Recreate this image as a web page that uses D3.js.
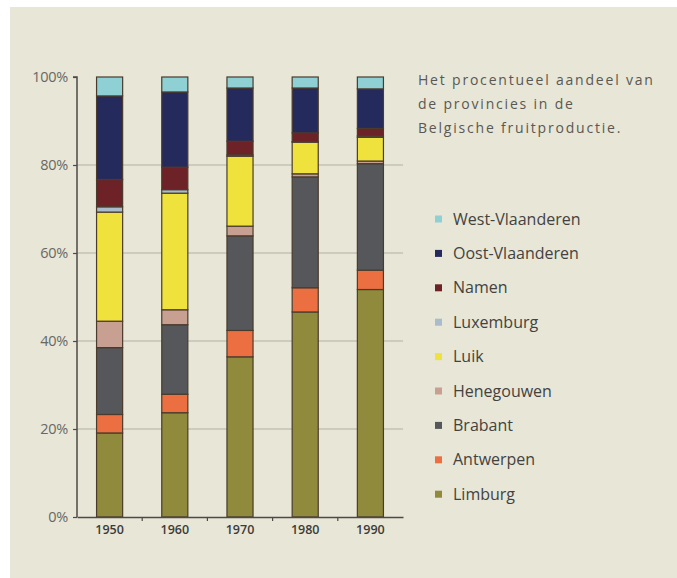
<!DOCTYPE html>
<html>
<head>
<meta charset="utf-8">
<script src="https://cdn.jsdelivr.net/npm/d3@7"></script>
<style>
  html, body { margin: 0; padding: 0; background: #ffffff; }
  svg { display: block; }
</style>
</head>
<body>
<svg id="chart" width="677" height="578"></svg>
<script>
// ---- data ----
const years = ["1950", "1960", "1970", "1980", "1990"];
const provinces = ["Limburg", "Antwerpen", "Brabant", "Henegouwen", "Luik", "Luxemburg", "Namen", "Oost-Vlaanderen", "West-Vlaanderen"];
const limburg        = [19.1, 23.7, 36.4, 46.6, 51.7];
const antwerpen      = [4.2, 4.2, 6.0, 5.5, 4.4];
const brabant        = [15.2, 15.8, 21.5, 25.2, 24.2];
const henegouwen     = [6.0, 3.4, 2.2, 0.7, 0.6];
const luik           = [24.8, 26.5, 15.9, 7.2, 5.4];
const luxemburg      = [1.2, 0.8, 0.3, 0.1, 0.3];
const namen          = [6.2, 5.1, 3.1, 2.0, 1.7];
const oostVlaanderen = [19.0, 17.1, 12.1, 10.2, 9.0];
const westVlaanderen = [4.3, 3.4, 2.5, 2.5, 2.7];
const yTicks = [0, 20, 40, 60, 80, 100];
const titleLines = ["Het procentueel aandeel van", "de provincies in de", "Belgische fruitproductie."];

const seriesValues = [limburg, antwerpen, brabant, henegouwen, luik, luxemburg, namen, oostVlaanderen, westVlaanderen];
const colors = {
  "Limburg": "#8f8a3c",
  "Antwerpen": "#ec6f42",
  "Brabant": "#55575a",
  "Henegouwen": "#c8a092",
  "Luik": "#efe23c",
  "Luxemburg": "#a8bccb",
  "Namen": "#6c2226",
  "Oost-Vlaanderen": "#252a5c",
  "West-Vlaanderen": "#8fd0d4"
};

const table = years.map((y, i) => {
  const row = { year: y };
  provinces.forEach((p, k) => row[p] = seriesValues[k][i]);
  return row;
});

const svg = d3.select("#chart");
// background paper
svg.append("rect").attr("x", 10).attr("y", 7).attr("width", 667).attr("height", 571).attr("fill", "#e7e6d7");

const margin = { left: 77, top: 77, bottom: 517, right: 403 };
const x = d3.scaleBand().domain(years).range([margin.left, margin.right]).paddingInner(0.6).paddingOuter(0.3);
const y = d3.scaleLinear().domain([0, 100]).range([margin.bottom, margin.top]);

// gridlines
svg.append("g").selectAll("line").data(yTicks.filter(t => t > 0 && t < 100)).join("line")
  .attr("x1", margin.left).attr("x2", margin.right)
  .attr("y1", d => y(d)).attr("y2", d => y(d))
  .attr("stroke", "#b3b0a3").attr("stroke-width", 1);

// stacks
const stack = d3.stack().keys(provinces)(table);
svg.append("g").selectAll("g").data(stack).join("g")
  .attr("fill", d => colors[d.key])
  .selectAll("rect").data(d => d).join("rect")
  .attr("x", d => x(d.data.year))
  .attr("width", x.bandwidth())
  .attr("y", d => y(d[1]))
  .attr("height", d => y(d[0]) - y(d[1]))
  .attr("stroke", "#4a3b2c").attr("stroke-width", 1.2);

// y axis
const yAxis = svg.append("g").attr("transform", `translate(${margin.left},0)`)
  .call(d3.axisLeft(y).tickValues(yTicks).tickFormat(d => d + "%").tickSize(4).tickPadding(5));
yAxis.select(".domain").attr("stroke", "#4d4a45").attr("stroke-width", 1.5).attr("d", `M-4,${y(100)}H0V${y(0)}`);
yAxis.selectAll(".tick line").attr("stroke", "#4d4a45").attr("stroke-width", 1.2);
yAxis.selectAll(".tick text").attr("fill", "#6a6863").attr("font-family", "Open Sans, sans-serif").attr("font-size", 14.5).attr("letter-spacing", -0.3);

// x axis
const xAxis = svg.append("g").attr("transform", `translate(0,${margin.bottom})`)
  .call(d3.axisBottom(x).tickSize(0).tickPadding(8));
xAxis.select(".domain").attr("stroke", "#4d4a45").attr("stroke-width", 1.5);
xAxis.selectAll(".tick text").attr("fill", "#3d3b38").attr("font-family", "Open Sans, sans-serif").attr("font-size", 12.5).attr("font-weight", 600);
// small separators between bands
const seps = years.slice(1).map(yr => x(yr) - x.step() * x.paddingInner() / 2);
xAxis.append("g").selectAll("line").data(seps).join("line")
  .attr("x1", d => d).attr("x2", d => d).attr("y1", 0).attr("y2", 4)
  .attr("stroke", "#4d4a45").attr("stroke-width", 1.2);

// title
svg.append("text").attr("x", 418).attr("y", 85)
  .attr("font-family", "Open Sans, sans-serif").attr("font-size", 14).attr("fill", "#5a5854")
  .attr("letter-spacing", 1.8)
  .selectAll("tspan").data(titleLines).join("tspan")
  .attr("x", 418).attr("dy", (d, i) => i === 0 ? 0 : 24).text(d => d);

// legend
const legendItems = provinces.slice().reverse();
const leg = svg.append("g").selectAll("g").data(legendItems).join("g")
  .attr("transform", (d, i) => `translate(435,${219 + i * 34.4})`);
leg.append("rect").attr("x", 0).attr("y", -3.5).attr("width", 7).attr("height", 7).attr("fill", d => colors[d]);
leg.append("text").attr("x", 18).attr("y", 0).attr("dy", "0.35em")
  .attr("font-family", "Open Sans, sans-serif").attr("font-size", 16).attr("fill", "#44423f").text(d => d);
</script>
</body>
</html>
